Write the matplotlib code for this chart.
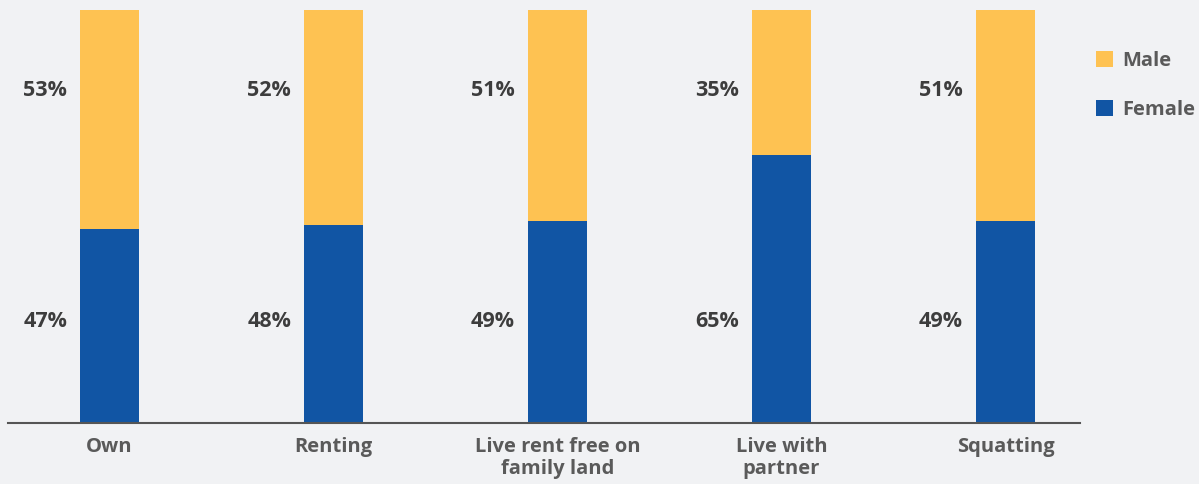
import matplotlib.pyplot as plt
import numpy as np

plt.rcParams['font.family'] = ['Open Sans', 'DejaVu Sans']

# 거주 형태별 성별 비율 (%)
categories = ['Own', 'Renting', 'Live rent free on\nfamily land', 'Live with\npartner', 'Squatting']
female = [47, 48, 49, 65, 49]
male = [53, 52, 51, 35, 51]

bg = '#f1f2f4'
c_female = '#1155a4'
c_male = '#fec252'

fig = plt.figure(figsize=(11.99, 4.84), dpi=100, facecolor=bg)
ax = fig.add_axes([8 / 1199, 61 / 484, 1072 / 1199, 413 / 484], facecolor=bg)

x = np.arange(len(categories))
w = 0.263
ax.bar(x, female, w, color=c_female, label='Female')
ax.bar(x, male, w, bottom=female, color=c_male, label='Male')

# 막대 왼쪽에 비율 표시
for i in range(len(categories)):
    ax.text(x[i] - w / 2 - 0.058, 80.5, f'{male[i]}%', ha='right', va='center',
            fontsize=15.5, fontweight='bold', color='#3d3d3d')
    ax.text(x[i] - w / 2 - 0.058, 24.6, f'{female[i]}%', ha='right', va='center',
            fontsize=15.5, fontweight='bold', color='#3d3d3d')

ax.set_xlim(-0.453, 4.333)
ax.set_ylim(0, 100)
ax.set_xticks(x)
ax.set_xticklabels(categories, fontsize=14.5, fontweight='bold', color='#5a5a5a',
                   linespacing=1.15)
ax.tick_params(axis='x', length=0, pad=10)
ax.set_yticks([])
for s in ['top', 'right', 'left']:
    ax.spines[s].set_visible(False)
ax.spines['bottom'].set_color('#555555')
ax.spines['bottom'].set_linewidth(1.5)

# 범례: Male 위, Female 아래
handles, labels = ax.get_legend_handles_labels()
fig.legend(handles[::-1], labels[::-1], loc='upper left', bbox_to_anchor=(1096 / 1199, 1 - 51 / 484),
           frameon=False, labelcolor='#5a5a5a', handlelength=0.85, handleheight=0.85,
           handletextpad=0.45, labelspacing=1.45, borderpad=0, borderaxespad=0,
           prop={'weight': 'bold', 'size': 14.5})

fig.savefig('out.png', dpi=100, facecolor=bg)
